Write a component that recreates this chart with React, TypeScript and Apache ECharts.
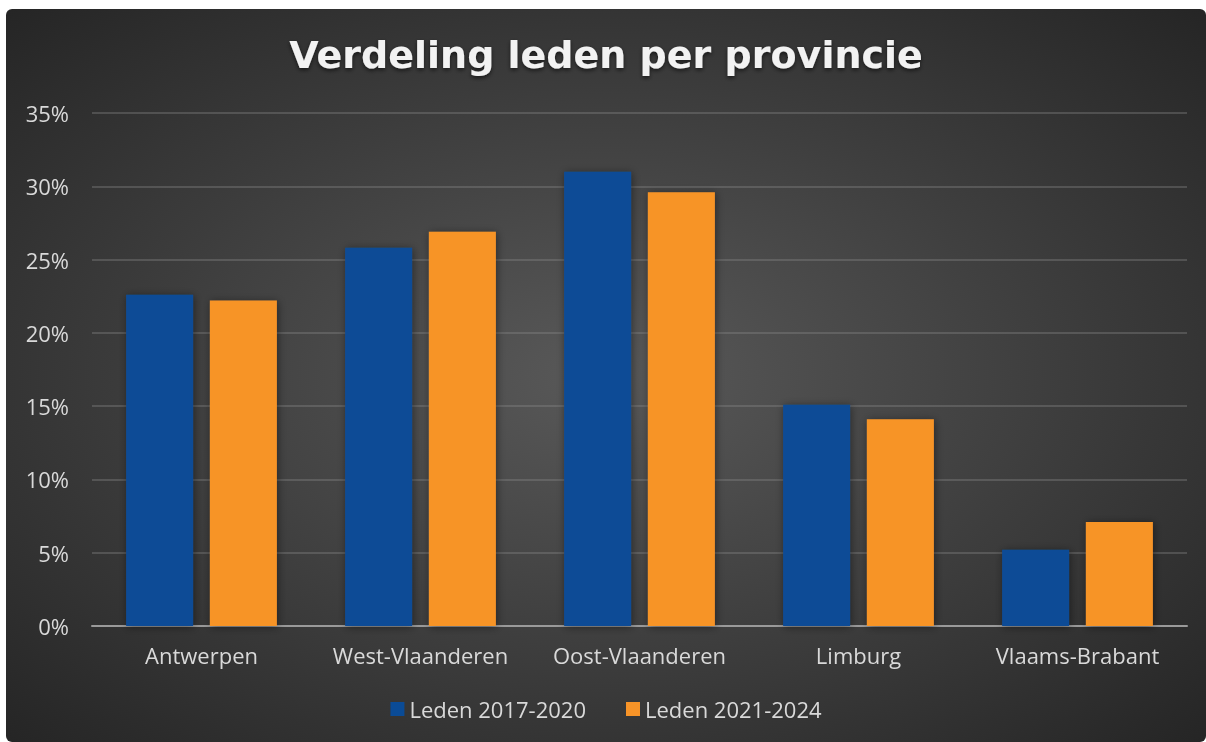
import React, { useEffect, useRef } from "react";
import * as echarts from "echarts";

const categories = ["Antwerpen", "West-Vlaanderen", "Oost-Vlaanderen", "Limburg", "Vlaams-Brabant"];
const leden2017 = [22.6, 25.8, 31.0, 15.1, 5.2];
const leden2021 = [22.2, 26.9, 29.6, 14.1, 7.1];
const seriesNames = ["Leden 2017-2020", "Leden 2021-2024"];
const titleText = "Verdeling leden per provincie";

export default function App() {
  const ref = useRef<HTMLDivElement>(null);
  useEffect(() => {
    const chart = echarts.init(ref.current!, null, { renderer: "svg" });
    const font = "'Open Sans', sans-serif";
    const barStyle = (color: string) => ({
      color,
      shadowBlur: 8,
      shadowColor: "rgba(0,0,0,0.45)",
      shadowOffsetX: 1,
      shadowOffsetY: 1,
    });
    chart.setOption({
      animation: false,
      backgroundColor: {
        type: "radial",
        x: 0.5,
        y: 0.5,
        r: 0.75,
        colorStops: [
          { offset: 0, color: "#595959" },
          { offset: 1, color: "#222222" },
        ],
      },
      title: {
        text: titleText,
        left: "center",
        top: 22,
        textStyle: {
          color: "#f2f2f2",
          fontSize: 38,
          fontWeight: "bold",
          fontFamily: "'DejaVu Sans', sans-serif",
          textShadowColor: "rgba(0,0,0,0.6)",
          textShadowBlur: 4,
          textShadowOffsetY: 2,
        },
      },
      legend: {
        data: seriesNames,
        bottom: 17,
        left: "center",
        itemWidth: 14,
        itemHeight: 14,
        itemGap: 40,
        icon: "rect",
        textStyle: { color: "#d9d9d9", fontSize: 22, fontFamily: font },
      },
      grid: { left: 86, right: 19, top: 104, bottom: 116, containLabel: false },
      xAxis: {
        type: "category",
        data: categories,
        axisLine: { lineStyle: { color: "#9a9a9a", width: 2 } },
        axisTick: { show: false },
        axisLabel: { color: "#d9d9d9", fontSize: 22, fontFamily: font, margin: 18, interval: 0 },
      },
      yAxis: {
        type: "value",
        min: 0,
        max: 35,
        interval: 5,
        axisLine: { show: false },
        axisTick: { show: false },
        splitLine: { lineStyle: { color: "rgba(140,140,140,0.35)", width: 2 } },
        axisLabel: {
          color: "#d9d9d9",
          fontSize: 22,
          fontFamily: font,
          margin: 23,
          formatter: (v: number) => v + "%",
        },
      },
      series: [
        {
          name: seriesNames[0],
          type: "bar",
          data: leden2017,
          barWidth: "30.6%",
          barGap: "25%",
          itemStyle: barStyle("#0A4B96"),
        },
        {
          name: seriesNames[1],
          type: "bar",
          data: leden2021,
          barWidth: "30.6%",
          itemStyle: barStyle("#F79428"),
        },
      ],
    });
    return () => chart.dispose();
  }, []);
  return (
    <div
      ref={ref}
      style={{ position: "fixed", left: 6, top: 9, width: 1200, height: 733, borderRadius: 6, overflow: "hidden" }}
    />
  );
}
